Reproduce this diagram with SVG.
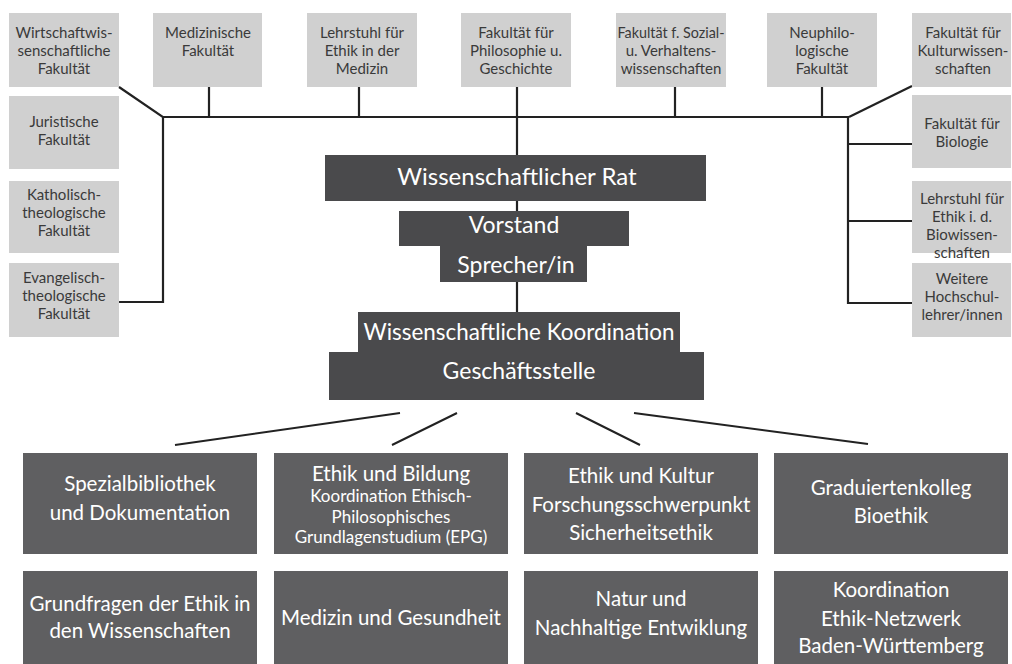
<svg xmlns="http://www.w3.org/2000/svg" width="1012" height="664" viewBox="0 0 1012 664">
<style>
.lb{fill:#d0d0d0}
.lt{font-family:Lato,"Open Sans","DejaVu Sans",sans-serif;font-size:15px;fill:#3a3a3a;text-anchor:middle}
.db{fill:#4a4a4c}
.dt{font-family:Lato,"Open Sans","DejaVu Sans",sans-serif;font-size:23px;fill:#ffffff;text-anchor:middle}
.mb{fill:#5f5f61}
.mt{font-family:Lato,"Open Sans","DejaVu Sans",sans-serif;font-size:20.5px;fill:#ffffff;text-anchor:middle}
.st{font-size:17px}
.ln{stroke:#222;stroke-width:2.2;fill:none}
.ln2{stroke:#222;stroke-width:2;fill:none}
</style>
<rect width="1012" height="664" fill="#ffffff"/>
<g id="connectors">
<path class="ln" d="M163 117H849"/>
<path class="ln" d="M119 87L163 117V302H119"/>
<path class="ln" d="M912 86L849 117"/>
<path class="ln" d="M848 117V303H912M848 144H912M848 221H912"/>
<path class="ln" d="M209 87V117M359 87V117M675 87V117M822 87V117"/>
<path class="ln" d="M517 87V155M517 200V211M517 282V312"/>
<path class="ln2" d="M400 413L175 445M457 413L392 445M576 413L640 445M634 413L868 444"/>
</g>
<g id="wiwi"><rect class="lb" x="9" y="13" width="110" height="74"/><text class="lt"><tspan x="64" y="38">Wirtschaftwis-</tspan><tspan x="64" y="56">senschaftliche</tspan><tspan x="64" y="74">Fakultät</tspan></text></g>
<g id="medizin"><rect class="lb" x="153" y="13" width="109" height="74"/><text class="lt"><tspan x="208" y="38">Medizinische</tspan><tspan x="208" y="56">Fakultät</tspan></text></g>
<g id="ethikmed"><rect class="lb" x="307" y="13" width="110" height="74"/><text class="lt"><tspan x="362" y="38">Lehrstuhl für</tspan><tspan x="362" y="56">Ethik in der</tspan><tspan x="362" y="74">Medizin</tspan></text></g>
<g id="philosophie"><rect class="lb" x="461" y="13" width="110" height="74"/><text class="lt"><tspan x="516" y="38">Fakultät für</tspan><tspan x="516" y="56">Philosophie u.</tspan><tspan x="516" y="74">Geschichte</tspan></text></g>
<g id="sozial"><rect class="lb" x="616" y="13" width="110" height="74"/><text class="lt"><tspan x="671" y="38" textLength="107" lengthAdjust="spacingAndGlyphs">Fakultät f. Sozial-</tspan><tspan x="671" y="56">u. Verhaltens-</tspan><tspan x="671" y="74">wissenschaften</tspan></text></g>
<g id="neuphilo"><rect class="lb" x="767" y="13" width="110" height="74"/><text class="lt"><tspan x="822" y="38">Neuphilo-</tspan><tspan x="822" y="56">logische</tspan><tspan x="822" y="74">Fakultät</tspan></text></g>
<g id="kultur"><rect class="lb" x="912" y="13" width="99" height="74"/><text class="lt"><tspan x="963" y="38">Fakultät für</tspan><tspan x="963" y="56">Kulturwissen-</tspan><tspan x="963" y="74">schaften</tspan></text></g>
<g id="jura"><rect class="lb" x="9" y="96" width="110" height="73"/><text class="lt"><tspan x="64" y="127">Juristische</tspan><tspan x="64" y="145">Fakultät</tspan></text></g>
<g id="kath"><rect class="lb" x="9" y="181" width="110" height="72"/><text class="lt"><tspan x="64" y="200">Katholisch-</tspan><tspan x="64" y="218">theologische</tspan><tspan x="64" y="236">Fakultät</tspan></text></g>
<g id="evang"><rect class="lb" x="9" y="263" width="110" height="74"/><text class="lt"><tspan x="64" y="283">Evangelisch-</tspan><tspan x="64" y="301">theologische</tspan><tspan x="64" y="319">Fakultät</tspan></text></g>
<g id="biologie"><rect class="lb" x="912" y="95" width="99" height="73"/><text class="lt"><tspan x="962" y="129">Fakultät für</tspan><tspan x="962" y="147">Biologie</tspan></text></g>
<g id="ethikbio"><rect class="lb" x="912" y="181" width="99" height="72"/><text class="lt"><tspan x="962" y="204">Lehrstuhl für</tspan><tspan x="962" y="222">Ethik i. d.</tspan><tspan x="962" y="240">Biowissen-</tspan><tspan x="962" y="258">schaften</tspan></text></g>
<g id="weitere"><rect class="lb" x="912" y="263" width="99" height="74"/><text class="lt"><tspan x="962" y="284">Weitere</tspan><tspan x="962" y="302">Hochschul-</tspan><tspan x="962" y="320">lehrer/innen</tspan></text></g>
<g id="rat"><rect class="db" x="325" y="155" width="381" height="46"/><text class="dt" x="517" y="185" style="font-size:24px">Wissenschaftlicher Rat</text></g>
<g id="vorstand"><path class="db" d="M399 211H629V246H587V282H440V246H399Z"/><text class="dt" x="514" y="233">Vorstand</text><text class="dt" x="516" y="273">Sprecher/in</text></g>
<g id="koordination"><path class="db" d="M358 312H680V352H704V400H329V352H358Z"/><text class="dt" x="519" y="340" textLength="311" lengthAdjust="spacingAndGlyphs">Wissenschaftliche Koordination</text><text class="dt" x="519" y="379">Geschäftsstelle</text></g>
<g id="bibliothek"><rect class="mb" x="23" y="453" width="234" height="101"/><text class="mt"><tspan x="140" y="491">Spezialbibliothek</tspan><tspan x="140" y="520">und Dokumentation</tspan></text></g>
<g id="bildung"><rect class="mb" x="274" y="453" width="234" height="101"/><text class="mt"><tspan x="391" y="481">Ethik und Bildung</tspan><tspan class="st" x="391" y="502">Koordination Ethisch-</tspan><tspan class="st" x="391" y="522.5">Philosophisches</tspan><tspan class="st" x="391" y="543">Grundlagenstudium (EPG)</tspan></text></g>
<g id="kulturethik"><rect class="mb" x="524" y="453" width="234" height="101"/><text class="mt"><tspan x="641" y="483">Ethik und Kultur</tspan><tspan x="641" y="512">Forschungsschwerpunkt</tspan><tspan x="641" y="540">Sicherheitsethik</tspan></text></g>
<g id="graduierten"><rect class="mb" x="774" y="453" width="234" height="101"/><text class="mt"><tspan x="891" y="495">Graduiertenkolleg</tspan><tspan x="891" y="523">Bioethik</tspan></text></g>
<g id="grundfragen"><rect class="mb" x="23" y="571" width="234" height="93"/><text class="mt"><tspan x="140" y="611">Grundfragen der Ethik in</tspan><tspan x="140" y="638">den Wissenschaften</tspan></text></g>
<g id="gesundheit"><rect class="mb" x="274" y="571" width="234" height="93"/><text class="mt" x="391" y="625">Medizin und Gesundheit</text></g>
<g id="natur"><rect class="mb" x="524" y="571" width="234" height="93"/><text class="mt"><tspan x="641" y="606">Natur und</tspan><tspan x="641" y="635">Nachhaltige Entwiklung</tspan></text></g>
<g id="netzwerk"><rect class="mb" x="774" y="571" width="234" height="93"/><text class="mt"><tspan x="891" y="597">Koordination</tspan><tspan x="891" y="626">Ethik-Netzwerk</tspan><tspan x="891" y="653">Baden-Württemberg</tspan></text></g>
</svg>
